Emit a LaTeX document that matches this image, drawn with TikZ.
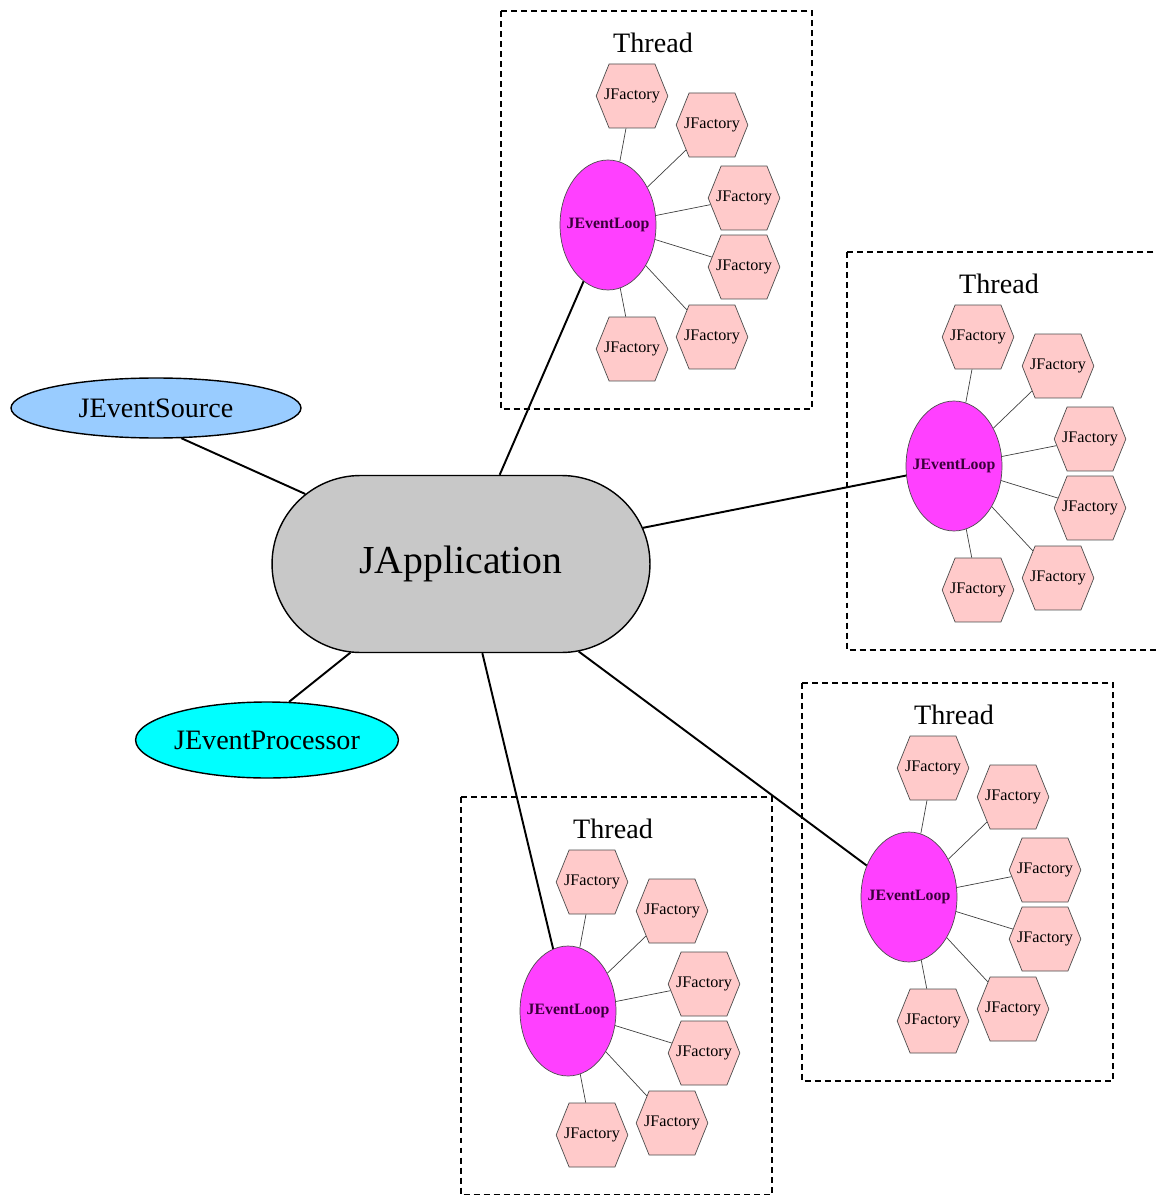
\documentclass[tikz,border=0pt]{standalone}
\usepackage{fontspec}
\setmainfont{Liberation Serif}
\usetikzlibrary{shapes.geometric,shapes.symbols,shapes.misc}

\definecolor{appgray}{HTML}{C8C8C8}
\definecolor{srcblue}{HTML}{99CCFF}
\definecolor{proccyan}{HTML}{00FFFF}
\definecolor{loopmag}{HTML}{FF40FF}
\definecolor{facpink}{HTML}{FFCACA}
\definecolor{looptext}{HTML}{3A003A}

\begin{document}
\begin{tikzpicture}[x=0.02cm,y=-0.02cm,
    app/.style={draw,thick,fill=appgray,rounded rectangle,inner sep=0pt,
                minimum width=7.56cm,minimum height=3.54cm,
                font=\fontsize{22.6}{26}\selectfont},
    source/.style={draw,thick,ellipse,fill=srcblue,inner sep=0pt,
                   minimum width=5.8cm,minimum height=1.2cm,
                   font=\fontsize{16}{19}\selectfont},
    proc/.style={draw,thick,ellipse,fill=proccyan,inner sep=0pt,
                 minimum width=4.9cm,minimum height=1.52cm,
                 font=\fontsize{16}{19}\selectfont},
    loop/.style={draw=black!70,ellipse,fill=loopmag,inner xsep=-4.3pt,
                 inner ysep=0pt,minimum width=1.92cm,minimum height=2.6cm,
                 text=looptext,font=\fontsize{9}{11}\selectfont\bfseries},
    factory/.style={draw=black!70,signal,signal to=east and west,
                    signal pointer angle=136,fill=facpink,inner xsep=-2.8pt,
                    inner ysep=0pt,minimum height=1.28cm,
                    font=\fontsize{9.2}{11}\selectfont},
    threadbox/.style={draw,line width=0.6pt,dash pattern=on 3.4pt off 2.3pt},
    threadlabel/.style={font=\fontsize{16}{19}\selectfont},
    link/.style={line width=1.1pt},
    faclink/.style={line width=0.4pt,black!75}]
  \useasboundingbox (0,0) rectangle (1156,1195);
  \clip (0,0) rectangle (1156,1195);

  \node[app] (app) at (461,564) {JApplication};
  \node[source] (src) at (156,408) {JEventSource};
  \node[proc] (proc) at (267,740) {JEventProcessor};
  \draw[link] (src.-50) -- (app);
  \draw[link] (proc.60) -- (app);

  \foreach \t/\x/\y in {a/608/225,
                        b/954/466,
                        c/909/897,
                        d/568/1011}
  {\draw[threadbox] (\x-107,\y-214) rectangle (\x+204,\y+184);
   \node[threadlabel] (thread\t) at (\x+45,\y-182) {Thread};
   \node[loop] (loop\t) at (\x,\y) {JEventLoop};
   \foreach \i/\dx/\dy in {1/24/-129,
                           2/104/-100,
                           3/136/-27,
                           4/136/42,
                           5/104/112,
                           6/24/124}
   {\node[factory] (fac\t\i) at (\x+\dx,\y+\dy) {JFactory};
    \draw[faclink] (loop\t) -- (fac\t\i);
   };
   \draw[link] (app) -- (loop\t);
  };
\end{tikzpicture}
\end{document}
